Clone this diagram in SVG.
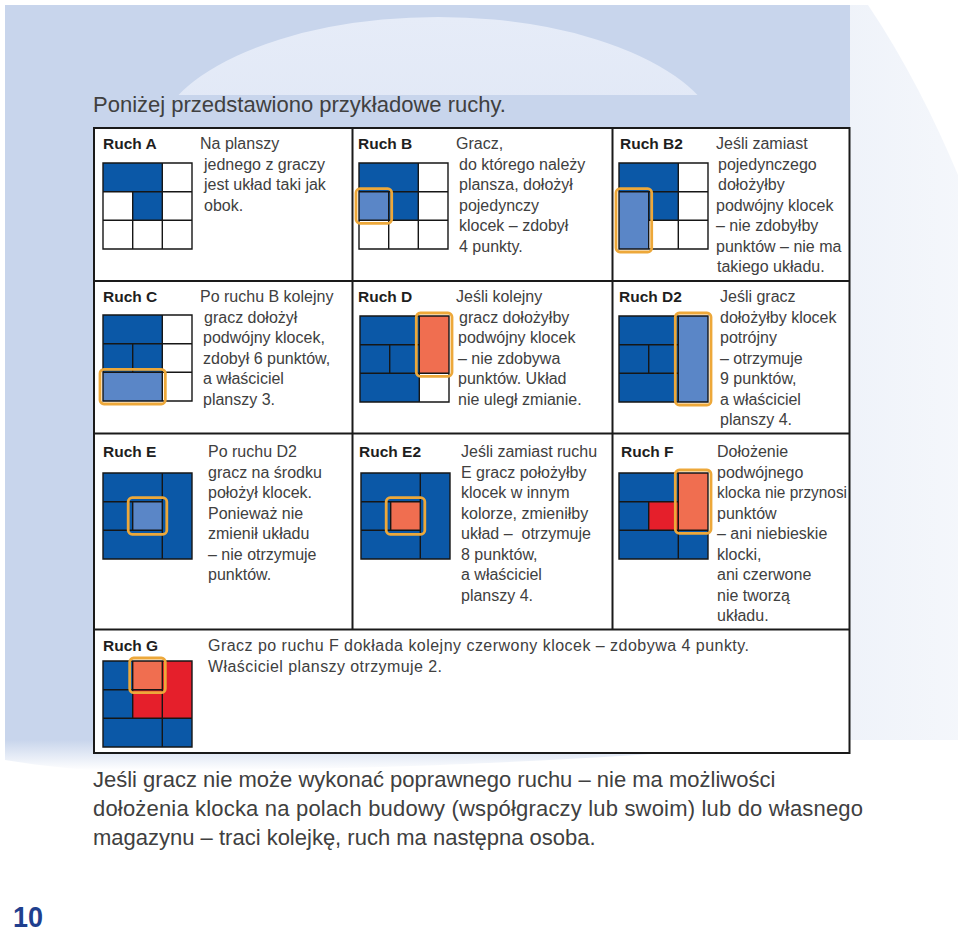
<svg xmlns="http://www.w3.org/2000/svg" width="960" height="934" viewBox="0 0 960 934">
<defs>
<style>
.bl{fill:#0b58a7}.lb{fill:#5a86c7}.sa{fill:#f06e50}.rd{fill:#e51f2b}.wh{fill:#fff}
.ln{stroke:#161616;stroke-width:1.4;fill:none}
.hl{fill:none;stroke:#eda83a;stroke-width:2.8}
.tb{stroke:#1a1a1a;stroke-width:2;fill:none}
text{font-family:"Liberation Sans",Arial,sans-serif}
.t{font-size:16px;fill:#404040;white-space:pre}
.h{font-weight:700;font-size:15.5px;fill:#1e1e1e}
.big{font-size:22px;fill:#404040}
</style>
<linearGradient id="rightFade" x1="0" y1="0" x2="1" y2="0">
<stop offset="0" stop-color="#c8d5ec"/>
<stop offset="1" stop-color="#c8d5ec" stop-opacity="0.2"/>
</linearGradient>
<linearGradient id="dome" x1="0" y1="0" x2="0" y2="1">
<stop offset="0" stop-color="#e6ecf8"/>
<stop offset="1" stop-color="#dae2f3"/>
</linearGradient>
<linearGradient id="bottomFade" x1="0" y1="0" x2="0" y2="1">
<stop offset="0" stop-color="#c8d5ec"/>
<stop offset="1" stop-color="#c8d5ec" stop-opacity="0"/>
</linearGradient>
<clipPath id="domeClip"><rect x="0" y="0" width="960" height="95"/></clipPath>
</defs>
<rect width="960" height="934" fill="#fff"/>
<g id="background">
<path d="M5,5 H868 C905,60 935,120 958,175 V740 H5 Z" fill="url(#rightFade)"/>
<path d="M5,5 H850 V740 H5 Z" fill="#c8d5ec"/>
<path d="M5,740 H850 C600,758 420,772 90,770 C60,768 30,764 5,760 Z" fill="url(#bottomFade)"/>
<ellipse cx="438" cy="150" rx="285" ry="133" fill="url(#dome)" clip-path="url(#domeClip)"/>
</g>
<text class="big" x="93" y="112">Poniżej przedstawiono przykładowe ruchy.</text>
<g id="table">
<rect x="94" y="128" width="755.5" height="625" fill="#fff"/>
<path class="tb" d="M94,128 H849.5 V753 H94 Z M94,281 H849.5 M94,433.5 H849.5 M94,629.5 H849.5 M352.5,128 V629.5 M612.5,128 V629.5"/>
</g>
<g id="ruch-a">
<text class="h" x="103" y="149">Ruch A</text>
<text class="t" x="200" y="149">Na planszy</text>
<text class="t" x="204" y="169.5">jednego z graczy</text>
<text class="t" x="204" y="190">jest układ taki jak</text>
<text class="t" x="204" y="210.5">obok.</text>
<g transform="translate(103,163)">
<rect class="wh" width="89" height="86"/>
<rect class="bl" width="59.3" height="28.7"/>
<rect class="bl" x="29.7" y="28.7" width="29.6" height="28.6"/>
<path class="ln" d="M0,0H89V86H0Z M0,28.7H89 M0,57.3H89 M29.7,28.7V86 M59.3,0V86"/>
</g>
</g>
<g id="ruch-b">
<text class="h" x="358" y="149">Ruch B</text>
<text class="t" x="456" y="149">Gracz,</text>
<text class="t" x="459" y="169.5">do którego należy</text>
<text class="t" x="459" y="190">plansza, dołożył</text>
<text class="t" x="459" y="210.5">pojedynczy</text>
<text class="t" x="459" y="231">klocek – zdobył</text>
<text class="t" x="459" y="251.5">4 punkty.</text>
<g transform="translate(359,163)">
<rect class="wh" width="89" height="86"/>
<rect class="bl" width="59.3" height="28.7"/>
<rect class="bl" x="29.7" y="28.7" width="29.6" height="28.6"/>
<rect class="lb" x="0" y="28.7" width="29.7" height="28.6"/>
<path class="ln" d="M0,0H89V86H0Z M0,28.7H89 M0,57.3H89 M29.7,28.7V86 M59.3,0V86"/>
<rect class="hl" x="-3" y="25.7" width="35.7" height="34.6" rx="4"/>
</g>
</g>
<g id="ruch-b2">
<text class="h" x="620" y="149">Ruch B2</text>
<text class="t" x="716" y="149">Jeśli zamiast</text>
<text class="t" x="718" y="169.5">pojedynczego</text>
<text class="t" x="718" y="190">dołożyłby</text>
<text class="t" x="716" y="210.5">podwójny klocek</text>
<text class="t" x="716" y="231">– nie zdobyłby</text>
<text class="t" x="716" y="251.5">punktów – nie ma</text>
<text class="t" x="717" y="272">takiego układu.</text>
<g transform="translate(619,163)">
<rect class="wh" width="89" height="86"/>
<rect class="bl" width="59.3" height="28.7"/>
<rect class="bl" x="29.7" y="28.7" width="29.6" height="28.6"/>
<rect class="lb" x="0" y="28.7" width="29.7" height="57.3"/>
<path class="ln" d="M0,0H89V86H0Z M0,28.7H89 M29.7,57.3H89 M29.7,28.7V86 M59.3,0V86"/>
<rect class="hl" x="-3" y="25.7" width="35.7" height="63.3" rx="4"/>
</g>
</g>
<g id="ruch-c">
<text class="h" x="103" y="302">Ruch C</text>
<text class="t" x="200" y="302">Po ruchu B kolejny</text>
<text class="t" x="204" y="322.5">gracz dołożył</text>
<text class="t" x="203" y="343">podwójny klocek,</text>
<text class="t" x="203" y="363.5">zdobył 6 punktów,</text>
<text class="t" x="203" y="384">a właściciel</text>
<text class="t" x="203" y="404.5">planszy 3.</text>
<g transform="translate(103,315)">
<rect class="wh" width="89" height="86"/>
<rect class="bl" width="59.3" height="57.3"/>
<rect class="lb" x="0" y="57.3" width="59.3" height="28.7"/>
<path class="ln" d="M0,0H89V86H0Z M0,28.7H89 M0,57.3H89 M29.7,28.7V57.3 M59.3,0V86"/>
<rect class="hl" x="-3" y="54.3" width="65.3" height="34.7" rx="4"/>
</g>
</g>
<g id="ruch-d">
<text class="h" x="358" y="302">Ruch D</text>
<text class="t" x="456" y="302">Jeśli kolejny</text>
<text class="t" x="459" y="322.5">gracz dołożyłby</text>
<text class="t" x="458" y="343">podwójny klocek</text>
<text class="t" x="458" y="363.5">– nie zdobywa</text>
<text class="t" x="458" y="384">punktów. Układ</text>
<text class="t" x="458" y="404.5">nie uległ zmianie.</text>
<g transform="translate(360,316)">
<rect class="wh" width="89" height="86"/>
<rect class="bl" width="59.3" height="86"/>
<rect class="sa" x="59.3" y="0" width="29.7" height="57.3"/>
<path class="ln" d="M0,0H89V86H0Z M0,28.7H59.3 M0,57.3H89 M29.7,28.7V57.3 M59.3,0V86"/>
<rect class="hl" x="56.3" y="-3" width="35.7" height="63.3" rx="4"/>
</g>
</g>
<g id="ruch-d2">
<text class="h" x="619" y="302">Ruch D2</text>
<text class="t" x="720" y="302">Jeśli gracz</text>
<text class="t" x="720" y="322.5">dołożyłby klocek</text>
<text class="t" x="720" y="343">potrójny</text>
<text class="t" x="720" y="363.5">– otrzymuje</text>
<text class="t" x="720" y="384">9 punktów,</text>
<text class="t" x="720" y="404.5">a właściciel</text>
<text class="t" x="720" y="425">planszy 4.</text>
<g transform="translate(619,316)">
<rect class="bl" width="59.3" height="86"/>
<rect class="lb" x="59.3" y="0" width="29.7" height="86"/>
<path class="ln" d="M0,0H89V86H0Z M0,28.7H59.3 M0,57.3H59.3 M29.7,28.7V57.3 M59.3,0V86"/>
<rect class="hl" x="56.3" y="-3" width="35.7" height="92" rx="4"/>
</g>
</g>
<g id="ruch-e">
<text class="h" x="103" y="457">Ruch E</text>
<text class="t" x="208" y="457">Po ruchu D2</text>
<text class="t" x="208" y="477.5">gracz na środku</text>
<text class="t" x="208" y="498">położył klocek.</text>
<text class="t" x="208" y="518.5">Ponieważ nie</text>
<text class="t" x="208" y="539">zmienił układu</text>
<text class="t" x="208" y="559.5">– nie otrzymuje</text>
<text class="t" x="208" y="580">punktów.</text>
<g transform="translate(103,473)">
<rect class="bl" width="89" height="86"/>
<rect class="lb" x="29.7" y="28.7" width="29.6" height="28.6"/>
<path class="ln" d="M0,0H89V86H0Z M0,28.7H59.3 M0,57.3H59.3 M29.7,28.7V57.3 M59.3,0V86"/>
<rect class="hl" x="25.2" y="24.7" width="38.6" height="36.6" rx="4"/>
</g>
</g>
<g id="ruch-e2">
<text class="h" x="359" y="457">Ruch E2</text>
<text class="t" x="461" y="457">Jeśli zamiast ruchu</text>
<text class="t" x="461" y="477.5">E gracz położyłby</text>
<text class="t" x="461" y="498">klocek w innym</text>
<text class="t" x="461" y="518.5">kolorze, zmieniłby</text>
<text class="t" x="461" y="539">układ –  otrzymuje</text>
<text class="t" x="461" y="559.5">8 punktów,</text>
<text class="t" x="461" y="580">a właściciel</text>
<text class="t" x="461" y="600.5">planszy 4.</text>
<g transform="translate(361,473)">
<rect class="bl" width="89" height="86"/>
<rect class="sa" x="29.7" y="28.7" width="29.6" height="28.6"/>
<path class="ln" d="M0,0H89V86H0Z M0,28.7H59.3 M0,57.3H59.3 M29.7,28.7V57.3 M59.3,0V86"/>
<rect class="hl" x="25.2" y="24.7" width="38.6" height="36.6" rx="4"/>
</g>
</g>
<g id="ruch-f">
<text class="h" x="621" y="457">Ruch F</text>
<text class="t" x="717" y="457">Dołożenie</text>
<text class="t" x="717" y="477.5">podwójnego</text>
<text class="t" x="717" y="498" textLength="130" lengthAdjust="spacingAndGlyphs">klocka nie przynosi</text>
<text class="t" x="717" y="518.5">punktów</text>
<text class="t" x="717" y="539">– ani niebieskie</text>
<text class="t" x="717" y="559.5">klocki,</text>
<text class="t" x="717" y="580">ani czerwone</text>
<text class="t" x="717" y="600.5">nie tworzą</text>
<text class="t" x="717" y="621">układu.</text>
<g transform="translate(619,473)">
<rect class="bl" width="89" height="86"/>
<rect class="rd" x="29.7" y="28.7" width="29.6" height="28.6"/>
<rect class="sa" x="59.3" y="0" width="29.7" height="57.3"/>
<path class="ln" d="M0,0H89V86H0Z M0,28.7H59.3 M0,57.3H89 M29.7,28.7V57.3 M59.3,0V86"/>
<rect class="hl" x="56.3" y="-3" width="35.7" height="63.3" rx="4"/>
</g>
</g>
<g id="ruch-g">
<text class="h" x="103" y="651">Ruch G</text>
<text class="t" x="208" y="651" textLength="541" lengthAdjust="spacing">Gracz po ruchu F dokłada kolejny czerwony klocek – zdobywa 4 punkty.</text>
<text class="t" x="208" y="671.5" textLength="234" lengthAdjust="spacing">Właściciel planszy otrzymuje 2.</text>
<g transform="translate(103,661)">
<rect class="bl" width="89" height="86"/>
<rect class="sa" x="29.7" y="0" width="29.6" height="28.7"/>
<rect class="rd" x="59.3" y="0" width="29.7" height="57.3"/>
<rect class="rd" x="29.7" y="28.7" width="29.6" height="28.6"/>
<path class="ln" d="M0,0H89V86H0Z M0,28.7H59.3 M0,57.3H89 M29.7,0V57.3 M59.3,0V86"/>
<rect class="hl" x="26.7" y="-3" width="35.6" height="34.7" rx="4"/>
</g>
</g>
<g id="footer">
<text class="big" x="93" y="787">Jeśli gracz nie może wykonać poprawnego ruchu – nie ma możliwości</text>
<text class="big" x="93" y="816" textLength="770" lengthAdjust="spacing">dołożenia klocka na polach budowy (współgraczy lub swoim) lub do własnego</text>
<text class="big" x="93" y="845">magazynu – traci kolejkę, ruch ma następna osoba.</text>
<text transform="translate(13,927) scale(0.9,1)" style="font-weight:700;font-size:30px;fill:#1f3f8e">10</text>
</g>
</svg>
